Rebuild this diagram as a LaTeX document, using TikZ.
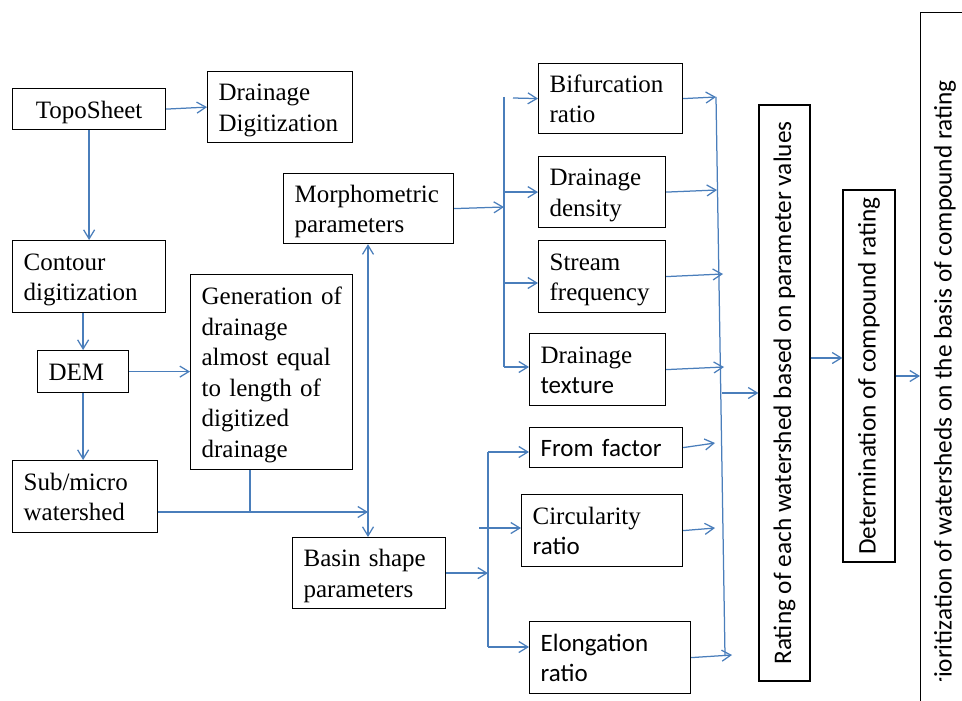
\documentclass[tikz,border=0pt]{standalone}
\usepackage{fontspec}
\setmainfont{Liberation Serif}
\newfontfamily\sanscal{Carlito}
\usetikzlibrary{arrows.meta}
\definecolor{lineblue}{HTML}{4A7EBB}
\newcommand{\tl}[1]{\raisebox{-3bp}[\height][\depth]{\begin{tabular}{@{}l@{}}#1\end{tabular}}}
\newcommand{\priofont}{\sanscal\fontsize{25.3bp}{30bp}\selectfont}
\newlength{\prw}
\newlength{\pwd}
\newlength{\prclip}
\begin{document}
\settowidth{\prw}{\priofont Prioritization of watersheds on the basis of compound rating}%
\settowidth{\pwd}{\priofont P}%
\setlength{\prclip}{\dimexpr\pwd-\prw+5.8bp\relax}%
\begin{tikzpicture}[x=1bp,y=-1bp,
  box/.style={draw=black, line width=1.2bp, rectangle, anchor=north west, inner xsep=11bp, inner ysep=0pt, align=left, font=\fontsize{25bp}{30.5bp}\selectfont},
  vbox/.style={draw=black, line width=1.2bp, rectangle, rotate=90, inner sep=0pt, font=\priofont},
  ln/.style={draw=lineblue, line width=1.25bp},
  arr/.style={ln, -{Straight Barb[length=9bp,width=11bp]}},
  arrboth/.style={ln, {Straight Barb[length=9bp,width=11bp]}-{Straight Barb[length=9bp,width=11bp]}},
]
\useasboundingbox (0,0) rectangle (962,701);
\clip (0,0) rectangle (962,701);

% ---------- boxes ----------
\node[box, text width=131bp, minimum height=41bp, align=center] (topo) at (12,88) {\tl{TopoSheet}};
\node[box, text width=123bp, minimum height=71bp] (dd) at (207,71) {\tl{Drainage\\Digitization}};
\node[box, text width=131bp, minimum height=72bp] (contour) at (12,240) {\tl{Contour\\digitization}};
\node[box, text width=69bp, minimum height=42bp] (dem) at (37,350) {\tl{DEM}};
\node[box, text width=140bp, minimum height=195bp] (gen) at (190,274) {\tl{Generation of\\drainage\\almost equal\\to length of\\digitized\\drainage}};
\node[box, text width=123bp, minimum height=72bp] (sub) at (12,460) {\tl{Sub/micro\\watershed}};
\node[box, text width=148bp, minimum height=70bp] (morph) at (283,173) {\tl{Morphometric\\parameters}};
\node[box, text width=131bp, minimum height=71bp] (basin) at (292,537) {\tl{Basin shape\\parameters}};

\node[box, text width=122bp, minimum height=70bp] (bif) at (538,63) {\tl{Bifurcation\\ratio}};
\node[box, text width=105bp, minimum height=71bp] (dens) at (538,156) {\tl{Drainage\\density}};
\node[box, text width=105bp, minimum height=72bp] (stream) at (538,240) {\tl{Stream\\frequency}};
\node[box, text width=114bp, minimum height=72bp] (tex) at (529,333) {\tl{Drainage\\{\sanscal texture}}};
\node[box, text width=131bp, minimum height=40bp] (ff) at (529,427) {\tl{{\sanscal From factor}}};
\node[box, text width=139bp, minimum height=72bp] (circ) at (521,494) {\tl{Circularity\\{\sanscal ratio}}};
\node[box, text width=139bp, minimum height=72bp] (elong) at (529,621) {\tl{{\sanscal Elongation}\\{\sanscal ratio}}};

\node[vbox, minimum width=576bp, minimum height=51bp] (rating) at (784.5,393) {Rating of each watershed based on parameter values};
\node[vbox, minimum width=372bp, minimum height=52bp] (det) at (869,376) {Determination of compound rating};
\node[draw=black, line width=1.2bp, rectangle, anchor=north west, inner sep=0pt, minimum width=80bp, minimum height=720bp] (prio) at (920,12) {};
\begin{scope}
  \clip (920,0) rectangle ([yshift=\prclip]962,80);
  \node[rotate=90, anchor=east, inner sep=0pt, font=\priofont] (priotext) at (945,80) {Prioritization of watersheds on the basis of compound rating};
\end{scope}

% ---------- coordinates for junctions ----------
\coordinate (jn) at (250,512);
\coordinate (jm) at (368,512);
\coordinate (mc) at (504,207);
\coordinate (mtop) at (504,97);
\coordinate (mbot) at (504,367);
\coordinate (bs) at (513,98);
\coordinate (s1) at (504,283);
\coordinate (rtop) at (716,97);
\coordinate (rbot) at (725,656);
\coordinate (r2) at (717,190);
\coordinate (r3) at (723,274);
\coordinate (r4) at (724,367);
\coordinate (r5) at (715,443);
\coordinate (r6) at (715,528);
\coordinate (r7) at (732,655);
\coordinate (r8) at (722,393);
\coordinate (btop) at (488,452);
\coordinate (bbot) at (488,647);
\coordinate (cs) at (479,528);

% ---------- connectors ----------
\draw[arr] (topo.east) -- (dd.west);
\draw[arr] (topo.south) -- (contour.north);
\draw[arr] (dem.north |- contour.south) -- (dem.north);
\draw[arr] (dem.east) -- (dem.east -| gen.west);
\draw[arr] (dem.south) -- (dem.south |- sub.north);
\draw[ln] (gen.south -| jn) -- (jn);
\draw[arr] (sub.east |- jn) -- (jm);
\draw[arrboth] (basin.north -| jm) -- (morph.south -| jm);

\draw[arr] (morph.east) -- (mc);
\draw[ln] (mtop) -- (mbot);
\draw[arr] (bs) -- (bif.west);
\draw[arr] (dens.west -| mtop) -- (dens.west);
\draw[arr] (s1) -- (s1 -| stream.west);
\draw[arr] (mbot) -- (mbot -| tex.west);

\draw[ln] (btop) -- (bbot);
\draw[arr] (basin.east) -- (basin.east -| btop);
\draw[arr] (btop) -- (btop -| ff.west);
\draw[arr] (cs) -- (cs -| circ.west);
\draw[arr] (bbot) -- (bbot -| elong.west);

\draw[ln] (rtop) -- (rbot);
\draw[arr] (bif.east) -- (rtop);
\draw[arr] (dens.east) -- (r2);
\draw[arr] (stream.east) -- (r3);
\draw[arr] (tex.east) -- (r4);
\draw[arr] (ff.east) -- (r5);
\draw[arr] (circ.east) -- (r6);
\draw[arr] (elong.east) -- (r7);
\draw[arr] (r8) -- (r8 -| rating.north);
\draw[arr] (rating.south |- 0,358) -- (det.north |- 0,358);
\draw[arr] (det.south |- 0,376) -- (prio.west |- 0,376);
\end{tikzpicture}
\end{document}
